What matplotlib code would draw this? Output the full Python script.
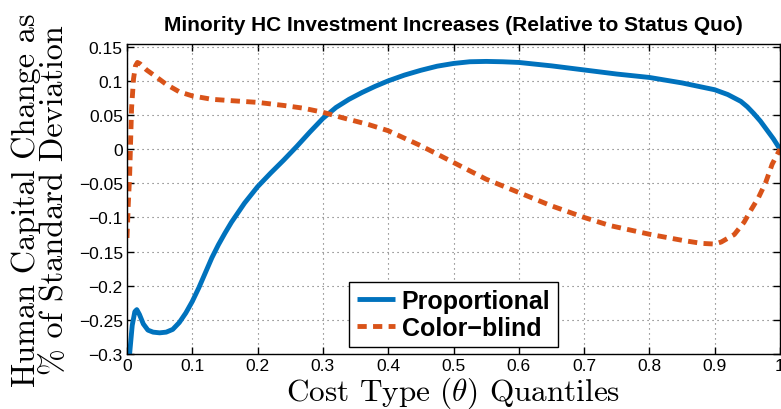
import matplotlib
matplotlib.use('Agg')
import matplotlib.pyplot as plt

plt.rcParams['font.family'] = ['Liberation Sans', 'DejaVu Sans']
plt.rcParams['mathtext.fontset'] = 'cm'

# quantiles and human capital change
x_prop = [0.0, 0.004, 0.008, 0.012, 0.015, 0.019, 0.025, 0.032, 0.04, 0.05,
          0.06, 0.07, 0.08, 0.09, 0.1, 0.11, 0.12, 0.13, 0.14, 0.15, 0.16,
          0.18, 0.2, 0.22, 0.24, 0.26, 0.28, 0.3, 0.32, 0.34, 0.36, 0.38,
          0.4, 0.425, 0.45, 0.475, 0.5, 0.525, 0.55, 0.575, 0.6, 0.65, 0.7,
          0.75, 0.8, 0.85, 0.9, 0.92, 0.94, 0.95, 0.96, 0.97, 0.98, 0.99, 1.0]
y_prop = [-0.34, -0.30, -0.258, -0.238, -0.235, -0.242, -0.256, -0.265, -0.268, -0.269,
          -0.268, -0.264, -0.254, -0.240, -0.223, -0.203, -0.181, -0.159, -0.140, -0.123, -0.107,
          -0.079, -0.055, -0.035, -0.016, 0.004, 0.025, 0.045, 0.061, 0.073, 0.083, 0.092,
          0.100, 0.1085, 0.1155, 0.1215, 0.1255, 0.128, 0.1285, 0.128, 0.127, 0.122, 0.116,
          0.110, 0.105, 0.097, 0.087, 0.080, 0.070, 0.062, 0.052, 0.041, 0.028, 0.015, 0.0]

x_blind = [0.0, 0.002, 0.004, 0.007, 0.01, 0.013, 0.016, 0.02, 0.03, 0.046,
           0.06, 0.08, 0.1, 0.13, 0.16, 0.2, 0.24, 0.27, 0.3, 0.33,
           0.37, 0.4, 0.45, 0.5, 0.55, 0.6, 0.65, 0.7, 0.74, 0.8,
           0.85, 0.88, 0.9, 0.91, 0.93, 0.945, 0.955, 0.967, 0.978, 0.988, 1.0]
y_blind = [-0.13, -0.08, -0.04, 0.06, 0.103, 0.122, 0.127, 0.125, 0.116, 0.105,
           0.095, 0.084, 0.078, 0.073, 0.071, 0.0685, 0.064, 0.060, 0.054, 0.046,
           0.036, 0.027, 0.005, -0.0195, -0.044, -0.0635, -0.083, -0.100, -0.112, -0.1246,
           -0.1335, -0.138, -0.139, -0.136, -0.125, -0.107, -0.09, -0.071, -0.049, -0.022, 0.0]

labels = ['Proportional', 'Color\u2212blind']
xticks = [0, 0.1, 0.2, 0.3, 0.4, 0.5, 0.6, 0.7, 0.8, 0.9, 1]
yticks = [-0.3, -0.25, -0.2, -0.15, -0.1, -0.05, 0, 0.05, 0.1, 0.15]

fig = plt.figure(figsize=(7.81, 4.10), dpi=100)
ax = fig.add_axes([127 / 781, 55 / 410, 653 / 781, 310 / 410])

ax.plot(x_prop, y_prop, color='#0072BD', lw=3.5, label=labels[0],
        solid_capstyle='butt', solid_joinstyle='round')
ax.plot(x_blind, y_blind, color='#D95319', lw=3.5, ls=(0, (1.9, 1.3)),
        dash_capstyle='butt', label=labels[1])

ax.set_xlim(0, 1)
ax.set_ylim(-0.3, 0.154)
ax.set_xticks(xticks)
ax.set_yticks(yticks)
ax.set_xticklabels(['%g' % v for v in xticks])
ax.set_yticklabels([('%g' % v).replace('-', '\u2212') for v in yticks])
ax.tick_params(direction='in', length=5, width=1, top=True, right=True,
               labelsize=12.5, pad=3)
for s in ax.spines.values():
    s.set_linewidth(1.0)
ax.grid(True, ls=(0, (1, 3.5)), color='#666666', lw=0.8)

ax.set_title('Minority HC Investment Increases (Relative to Status Quo)',
             fontsize=15, fontweight='bold', pad=10)
ax.set_xlabel(r'Cost Type $(\theta)$ Quantiles', fontsize=22.5, family='cmr10', labelpad=1)
fig.text(40 / 781, 0.512, 'Human Capital Change as\n% of Standard Deviation',
         rotation=90, ha='center', va='center', fontsize=23.2, family='cmr10',
         linespacing=0.97, multialignment='center')

leg = ax.legend(loc='lower left', bbox_to_anchor=(0.34, 0.022), borderaxespad=0,
                prop={'weight': 'bold', 'size': 18}, fancybox=False, framealpha=1,
                edgecolor='black', handlelength=1.55, handletextpad=0.25,
                labelspacing=0.1, borderpad=0.3)
leg.get_frame().set_linewidth(1.0)

fig.savefig('out.png', dpi=100)
